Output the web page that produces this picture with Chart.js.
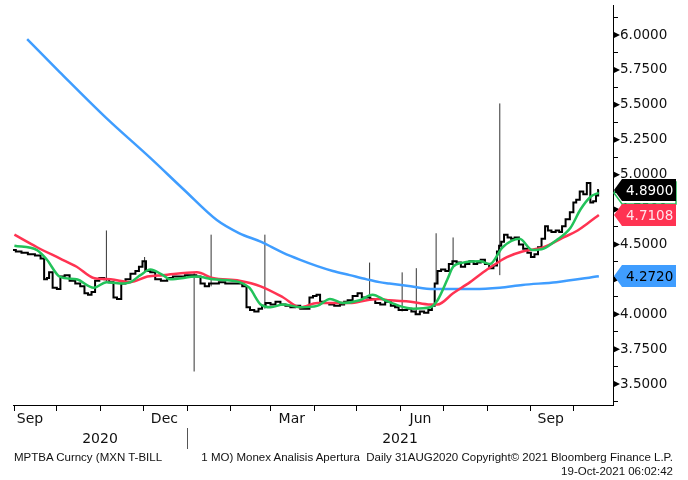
<!DOCTYPE html>
<html>
<head>
<meta charset="utf-8">
<script src="https://cdn.jsdelivr.net/npm/chart.js@4.4.1/dist/chart.umd.min.js"></script>
<style>
  body { margin: 0; background: #fff; }
  #wrap { position: relative; width: 688px; height: 480px; }
  .foot { position: absolute; font: 11.5px "Liberation Sans", Arial, sans-serif; color: #111; white-space: pre; }
</style>
</head>
<body>
<div id="wrap">
  <canvas id="chart" width="688" height="480"></canvas>
  <div class="foot" style="left:14px; top:451px;">MPTBA Curncy (MXN T-BILL</div>
  <div class="foot" style="right:15px; top:451px;">1 MO) Monex Analisis Apertura  Daily 31AUG2020 Copyright© 2021 Bloomberg Finance L.P.</div>
  <div class="foot" style="right:15px; top:465px;">19-Oct-2021 06:02:42</div>
</div>
<script>
'use strict';

// daily closes
const priceDates = ['2020-08-31','2020-09-04','2020-09-08','2020-09-13','2020-09-18','2020-09-21','2020-09-23','2020-09-25','2020-09-26','2020-09-30',
  '2020-10-02','2020-10-05','2020-10-08','2020-10-12','2020-10-16','2020-10-19','2020-10-22','2020-10-24','2020-10-27','2020-10-29',
  '2020-11-02','2020-11-05','2020-11-09','2020-11-11','2020-11-14','2020-11-17','2020-11-20','2020-11-24','2020-11-27','2020-11-29',
  '2020-12-02','2020-12-04','2020-12-08','2020-12-11','2020-12-16','2020-12-20','2020-12-24','2020-12-28',
  '2021-01-02','2021-01-06','2021-01-09','2021-01-12','2021-01-15','2021-01-18','2021-01-21','2021-01-26','2021-01-30',
  '2021-02-03','2021-02-07','2021-02-11','2021-02-13','2021-02-16','2021-02-19','2021-02-22','2021-02-24','2021-02-27',
  '2021-03-03','2021-03-06','2021-03-10','2021-03-13','2021-03-17','2021-03-20','2021-03-24','2021-03-27','2021-03-30',
  '2021-04-01','2021-04-04','2021-04-06','2021-04-10','2021-04-13','2021-04-17','2021-04-21','2021-04-23','2021-04-26','2021-04-30',
  '2021-05-03','2021-05-06','2021-05-09','2021-05-12','2021-05-16','2021-05-19','2021-05-23','2021-05-27','2021-05-29',
  '2021-06-01','2021-06-04','2021-06-07','2021-06-10','2021-06-13','2021-06-16','2021-06-19','2021-06-22','2021-06-24','2021-06-26','2021-06-28',
  '2021-07-01','2021-07-04','2021-07-06','2021-07-09','2021-07-12','2021-07-15','2021-07-18','2021-07-21','2021-07-24','2021-07-26','2021-07-29',
  '2021-08-01','2021-08-04','2021-08-07','2021-08-09','2021-08-10','2021-08-12','2021-08-14','2021-08-17','2021-08-19','2021-08-22','2021-08-25','2021-08-28','2021-08-31',
  '2021-09-02','2021-09-05','2021-09-07','2021-09-10','2021-09-12','2021-09-14','2021-09-17','2021-09-20','2021-09-22','2021-09-24','2021-09-27','2021-09-30',
  '2021-10-02','2021-10-04','2021-10-07','2021-10-09','2021-10-12','2021-10-14','2021-10-16','2021-10-18','2021-10-19'];
const priceClose = [4.46,4.45,4.44,4.43,4.42,4.40,4.25,4.26,4.30,4.19,
  4.18,4.27,4.28,4.24,4.22,4.20,4.15,4.14,4.16,4.24,
  4.26,4.25,4.23,4.12,4.11,4.22,4.25,4.29,4.31,4.34,
  4.38,4.31,4.30,4.25,4.24,4.26,4.27,4.27,
  4.28,4.28,4.27,4.22,4.20,4.22,4.22,4.23,4.22,
  4.22,4.22,4.20,4.05,4.03,4.02,4.04,4.06,4.08,
  4.07,4.09,4.07,4.06,4.05,4.06,4.04,4.04,4.12,
  4.13,4.14,4.09,4.08,4.07,4.06,4.07,4.09,4.10,4.13,
  4.15,4.12,4.12,4.11,4.08,4.07,4.09,4.06,4.05,
  4.03,4.03,4.04,4.02,4.00,4.02,4.01,4.03,4.06,4.22,4.31,
  4.32,4.31,4.36,4.38,4.37,4.34,4.36,4.38,4.36,4.37,4.39,
  4.36,4.33,4.35,4.45,4.49,4.52,4.57,4.55,4.54,4.55,4.50,4.47,4.44,
  4.41,4.43,4.48,4.54,4.63,4.60,4.59,4.60,4.59,4.63,4.68,4.73,
  4.80,4.82,4.88,4.86,4.94,4.80,4.81,4.85,4.89];

// days with long high/low bars
const spikeDates = ['2020-11-05','2020-12-02','2021-01-06','2021-01-18','2021-02-25','2021-05-10','2021-06-02','2021-06-12','2021-06-26','2021-07-08','2021-08-10'];
const spikeLow   = [4.23, 4.30, 3.59, 4.20, 4.04, 4.10, 4.02, 4.00, 4.22, 4.33, 4.28];
const spikeHigh  = [4.60, 4.41, 4.30, 4.57, 4.57, 4.37, 4.30, 4.33, 4.58, 4.55, 5.51];

// short moving average (green)
const greenDates = ['2020-09-01','2020-09-17','2020-09-24','2020-10-03','2020-10-15','2020-10-27','2020-11-05','2020-11-15','2020-11-22','2020-11-29',
  '2020-12-06','2020-12-15','2020-12-20','2021-01-08','2021-01-19','2021-02-07','2021-02-14','2021-02-22','2021-03-01','2021-03-10',
  '2021-03-22','2021-04-03','2021-04-12','2021-04-21','2021-05-03','2021-05-12','2021-05-21','2021-05-31','2021-06-10','2021-06-22',
  '2021-06-27','2021-07-04','2021-07-08','2021-07-15','2021-07-27','2021-08-03','2021-08-12','2021-08-24','2021-09-02','2021-09-10',
  '2021-09-19','2021-09-29','2021-10-06','2021-10-13','2021-10-19'];
const greenVals = [4.49,4.46,4.39,4.27,4.25,4.19,4.23,4.22,4.23,4.28,
  4.32,4.28,4.25,4.27,4.25,4.23,4.19,4.07,4.05,4.07,
  4.05,4.06,4.11,4.08,4.10,4.14,4.10,4.06,4.04,4.05,
  4.10,4.25,4.34,4.37,4.38,4.36,4.48,4.54,4.46,4.47,
  4.53,4.62,4.75,4.84,4.87];

// medium moving average (red)
const redDates = ['2020-09-01','2020-09-17','2020-10-03','2020-10-15','2020-10-27','2020-11-08','2020-11-22','2020-12-04','2020-12-15','2021-01-08',
  '2021-01-19','2021-02-07','2021-02-22','2021-03-10','2021-03-22','2021-04-03','2021-04-14','2021-04-26','2021-05-08','2021-05-17',
  '2021-05-24','2021-06-08','2021-06-22','2021-06-27','2021-07-08','2021-07-20','2021-08-01','2021-08-10','2021-08-15','2021-08-26',
  '2021-09-10','2021-09-24','2021-10-04','2021-10-11','2021-10-19'];
const redVals = [4.57,4.48,4.40,4.34,4.26,4.25,4.23,4.27,4.28,4.30,
  4.26,4.24,4.20,4.12,4.05,4.08,4.08,4.08,4.10,4.11,
  4.10,4.09,4.07,4.07,4.15,4.23,4.32,4.38,4.41,4.45,
  4.48,4.55,4.60,4.65,4.7108];

// long moving average (blue)
const blueDates = ['2020-09-10','2020-10-03','2020-11-05','2020-12-06','2020-12-30','2021-01-22','2021-02-07','2021-02-22','2021-03-10','2021-03-22',
  '2021-04-03','2021-04-14','2021-04-26','2021-05-08','2021-05-17','2021-05-24','2021-06-08','2021-06-24','2021-07-08','2021-07-23',
  '2021-08-10','2021-08-26','2021-09-19','2021-10-19'];
const blueVals = [5.97,5.735,5.405,5.12,4.89,4.675,4.58,4.52,4.44,4.39,
  4.345,4.31,4.28,4.25,4.23,4.22,4.20,4.18,4.18,4.18,
  4.19,4.21,4.23,4.272];

// axes
const axisStart = '2020-08-31';
const axisEnd = '2021-10-29';
const monthStarts = ['2020-09-01','2020-10-01','2020-11-01','2020-12-01','2021-01-01','2021-02-01','2021-03-01',
  '2021-04-01','2021-05-01','2021-06-01','2021-07-01','2021-08-01','2021-09-01','2021-10-01'];
const monthLabelDates = ['2020-09-12','2020-12-16','2021-03-16','2021-06-15','2021-09-15'];
const monthLabels = ['Sep','Dec','Mar','Jun','Sep'];
const yearLabels = ['2020','2021'];
const yearBreak = '2021-01-01';
const yMin = 3.35, yMax = 6.215;
const yMajorTicks = [3.5, 3.75, 4.0, 4.25, 4.5, 4.75, 5.0, 5.25, 5.5, 5.75, 6.0];

const day0 = Date.UTC(2020, 8, 1);
const toDay = s => (Date.UTC(+s.slice(0, 4), +s.slice(5, 7) - 1, +s.slice(8, 10)) - day0) / 86400000;
const pts = (dates, vals) => dates.map((d, i) => ({ x: toDay(d), y: vals[i] }));

const spikePts = [];
spikeDates.forEach((d, i) => {
  spikePts.push({ x: toDay(d), y: spikeLow[i] }, { x: toDay(d), y: spikeHigh[i] }, { x: toDay(d), y: null });
});

const GREEN = '#22c25a', RED = '#ff3352', BLUE = '#3f9dff';
const FONT = '"DejaVu Sans", Verdana, sans-serif';
const xMin = toDay(axisStart), xMax = toDay(axisEnd);
const yb = toDay(yearBreak);
const yearMids = [(xMin + yb) / 2, (yb + xMax) / 2];

const bottomAxis = (h, weight, extra) => Object.assign({
  type: 'linear', position: 'bottom', min: xMin, max: xMax, weight: weight,
  afterFit: s => { s.height = h; s.paddingLeft = 0; s.paddingRight = 0; }
}, extra);

// right side boxes with last values + triangles + year divider
const decor = {
  id: 'decor',
  afterDraw(chart) {
    const { ctx, scales } = chart;
    const y = scales.y;
    ctx.save();
    ctx.fillStyle = '#000';
    yMajorTicks.forEach(v => {
      const py = y.getPixelForValue(v);
      ctx.beginPath();
      ctx.moveTo(y.left, py - 3.5);
      ctx.lineTo(y.left + 7, py);
      ctx.lineTo(y.left, py + 3.5);
      ctx.closePath();
      ctx.fill();
    });

    const sx = Math.round(scales.x.getPixelForValue(yb)) + 0.5;
    ctx.strokeStyle = '#555';
    ctx.lineWidth = 1;
    ctx.beginPath();
    ctx.moveTo(sx, scales.xy.top - 3);
    ctx.lineTo(sx, scales.xy.bottom - 4);
    ctx.stroke();

    const tag = (v, fill, stroke, text) => {
      const py = Math.round(y.getPixelForValue(v));
      const l = y.left + 1, b = l + 8, r = 676, h = 11;
      ctx.beginPath();
      ctx.moveTo(l, py);
      ctx.lineTo(b, py - h);
      ctx.lineTo(r, py - h);
      ctx.lineTo(r, py + h);
      ctx.lineTo(b, py + h);
      ctx.closePath();
      if (fill) { ctx.fillStyle = fill; ctx.fill(); }
      if (stroke) { ctx.strokeStyle = stroke; ctx.lineWidth = 1.5; ctx.stroke(); }
      if (text) {
        ctx.fillStyle = text;
        ctx.font = '13.5px ' + FONT;
        ctx.textAlign = 'left';
        ctx.textBaseline = 'middle';
        ctx.fillText(v.toFixed(4), b + 4, py + 1);
      }
    };
    tag(greenVals[greenVals.length - 1], null, GREEN, null);
    tag(priceClose[priceClose.length - 1], '#000', null, '#fff');
    tag(redVals[redVals.length - 1], RED, null, '#ffe4ea');
    tag(blueVals[blueVals.length - 1], BLUE, null, '#000');
    ctx.restore();
  }
};

new Chart(document.getElementById('chart'), {
  type: 'line',
  data: {
    datasets: [
      { label: 'MA short', data: pts(greenDates, greenVals), borderColor: GREEN, borderWidth: 2.5, cubicInterpolationMode: 'monotone', tension: 0.4 },
      { label: 'MA medium', data: pts(redDates, redVals), borderColor: RED, borderWidth: 2.5, cubicInterpolationMode: 'monotone', tension: 0.4 },
      { label: 'MA long', data: pts(blueDates, blueVals), borderColor: BLUE, borderWidth: 2.5, cubicInterpolationMode: 'monotone', tension: 0.4 },
      { label: 'MPTBA', data: pts(priceDates, priceClose), borderColor: '#000', borderWidth: 2, stepped: 'middle' },
      { label: 'High/Low', data: spikePts, borderColor: '#333', borderWidth: 1, spanGaps: false }
    ]
  },
  options: {
    responsive: false,
    animation: false,
    devicePixelRatio: 1,
    layout: { padding: { left: 13, top: 5, right: 0, bottom: 27 } },
    elements: { point: { radius: 0, hoverRadius: 0 } },
    plugins: { legend: { display: false }, tooltip: { enabled: false } },
    scales: {
      x: bottomAxis(6, 0, {
        afterBuildTicks: s => { s.ticks = monthStarts.map(d => ({ value: toDay(d) })); },
        ticks: { display: false },
        grid: { drawOnChartArea: false, drawTicks: true, tickLength: 6, color: '#000' },
        border: { display: true, color: '#000', width: 1 }
      }),
      xm: bottomAxis(20, 1, {
        afterBuildTicks: s => { s.ticks = monthLabelDates.map(d => ({ value: toDay(d) })); },
        ticks: { autoSkip: false, maxRotation: 0, padding: 0, color: '#111', font: { family: FONT, size: 14 },
          callback: (v, i) => monthLabels[i] },
        grid: { display: false, drawTicks: false },
        border: { display: false }
      }),
      xy: bottomAxis(22, 2, {
        afterBuildTicks: s => { s.ticks = yearMids.map(v => ({ value: v })); },
        ticks: { autoSkip: false, maxRotation: 0, padding: 0, color: '#111', font: { family: FONT, size: 14 },
          callback: (v, i) => yearLabels[i] },
        grid: { display: false, drawTicks: false },
        border: { display: false }
      }),
      y: {
        type: 'linear', position: 'right', min: yMin, max: yMax,
        afterBuildTicks: s => {
          const t = [];
          for (let v = 3.375; v <= 6.13; v += 0.125) t.push({ value: Math.round(v * 1000) / 1000 });
          s.ticks = t;
        },
        afterFit: s => { s.width = 75; s.paddingTop = 0; s.paddingBottom = 0; },
        ticks: { autoSkip: false, padding: 2, color: '#111', font: { family: FONT, size: 13.5 },
          callback: v => (yMajorTicks.indexOf(v) >= 0 ? v.toFixed(4) : '') },
        grid: { drawOnChartArea: false, drawTicks: true, tickLength: 5, color: '#000' },
        border: { display: true, color: '#000', width: 1 }
      }
    }
  },
  plugins: [decor]
});
</script>
</body>
</html>
